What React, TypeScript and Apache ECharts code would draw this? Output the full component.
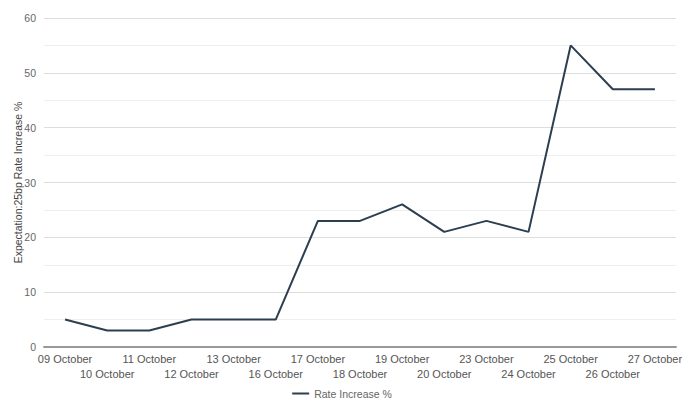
import React, { useEffect, useRef } from "react";
import * as echarts from "echarts";

const categories = [
  "09 October", "10 October", "11 October", "12 October", "13 October",
  "16 October", "17 October", "18 October", "19 October", "20 October",
  "23 October", "24 October", "25 October", "26 October", "27 October",
];
const rateIncrease = [5, 3, 3, 5, 5, 5, 23, 23, 26, 21, 23, 21, 55, 47, 47];
const seriesName = "Rate Increase %";
const yAxisTitle = "Expectation:25bp Rate Increase %";

export default function App() {
  const ref = useRef<HTMLDivElement>(null);

  useEffect(() => {
    if (!ref.current) return;
    document.body.style.margin = "0";
    document.body.style.overflow = "hidden";
    const chart = echarts.init(ref.current, null, { renderer: "svg" });
    const font = "Liberation Sans, Arial, sans-serif";
    chart.setOption({
      animation: false,
      textStyle: { fontFamily: font },
      grid: {
        left: 44,
        right: 8,
        top: 18,
        bottom: 54,
        containLabel: false,
        outerBoundsMode: "none",
      },
      legend: {
        top: 383,
        left: "center",
        data: [{ name: seriesName, icon: "rect" }],
        itemWidth: 17,
        itemHeight: 2,
        itemGap: 10,
        textStyle: { color: "#666", fontSize: 10.5, fontFamily: font },
      },
      xAxis: {
        type: "category",
        data: categories,
        boundaryGap: true,
        axisLine: { lineStyle: { color: "#999", width: 2 } },
        axisTick: { show: false },
        axisLabel: {
          interval: 0,
          color: "#555",
          fontSize: 11,
          margin: 4,
          lineHeight: 15,
          formatter: (v: string, i: number) => (i % 2 ? "\n" + v : v),
        },
      },
      yAxis: {
        type: "value",
        min: 0,
        max: 60,
        interval: 10,
        name: yAxisTitle,
        nameLocation: "middle",
        nameGap: 21,
        nameMoveOverlap: false,
        nameTextStyle: { color: "#444", fontSize: 10.5, fontFamily: font },
        axisLine: { show: false },
        axisTick: { show: false },
        axisLabel: { color: "#666", fontSize: 10.5, margin: 8 },
        splitLine: { lineStyle: { color: "#ddd", width: 1 } },
        minorTick: { show: false, splitNumber: 2 },
        minorSplitLine: { show: true, lineStyle: { color: "#eee", width: 1 } },
      },
      series: [
        {
          name: seriesName,
          type: "line",
          data: rateIncrease,
          symbol: "none",
          lineStyle: { color: "#2c3e50", width: 2 },
          itemStyle: { color: "#2c3e50" },
        },
      ],
    });
    return () => chart.dispose();
  }, []);

  return (
    <div
      ref={ref}
      style={{ position: "absolute", left: 0, top: 0, width: 684, height: 401 }}
    />
  );
}
